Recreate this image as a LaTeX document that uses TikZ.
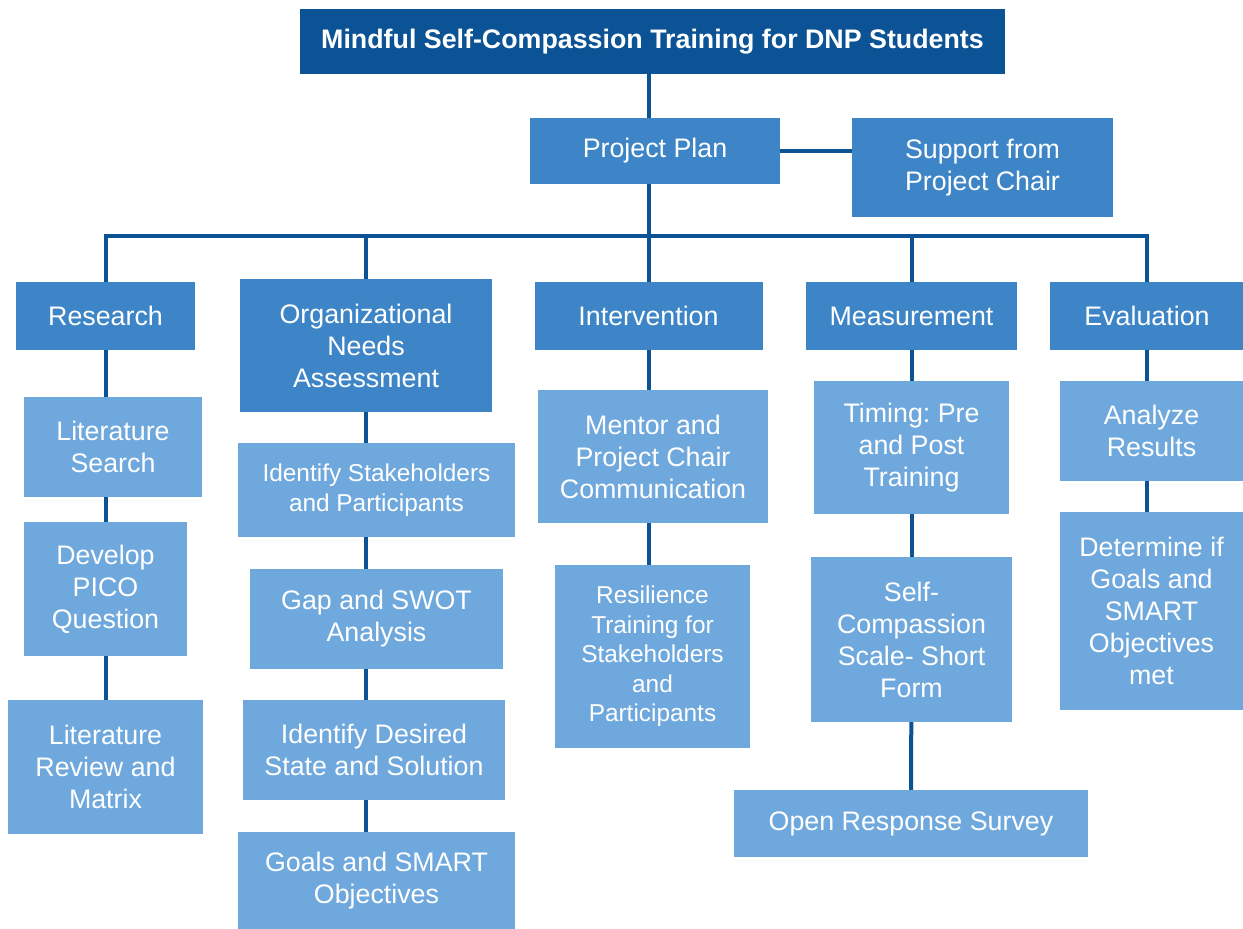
\documentclass[tikz,border=0pt]{standalone}
\usepackage{fontspec}
\setmainfont{Liberation Sans}
\usetikzlibrary{backgrounds}
\definecolor{darkblue}{HTML}{0B5394}
\definecolor{midblue}{HTML}{3D85C6}
\definecolor{lightblue}{HTML}{6FA8DC}
\frenchspacing

\begin{document}
\begin{tikzpicture}[x=1pt,y=-1pt,
    box/.style={rectangle, inner sep=0pt, align=center, text=white,
        font=\fontsize{26.8}{32}\selectfont},
    head/.style={box, fill=midblue},
    task/.style={box, fill=lightblue},
    small/.style={font=\fontsize{24.4}{29.5}\selectfont},
    link/.style={darkblue, line width=4pt}]
    \useasboundingbox (0,0) rectangle (1243,929);

        \node[box, fill=darkblue, minimum width=705pt, minimum height=65pt,
            font=\fontsize{26.8}{32}\selectfont\bfseries] (title) at (652.5, 41.5)
            {Mindful Self-Compassion Training for DNP Students};

        \node[head, minimum width=250pt, minimum height=66pt] (plan) at (655, 151) {Project Plan};
        \node[head, minimum width=261pt, minimum height=99pt] (support) at (982.5, 167.5) {Support from\\Project Chair};
        \coordinate (bus) at (0, 236);

        % phases
        \node[head, minimum width=179pt, minimum height=68pt] (research) at (105.5, 316) {Research};
        \node[head, minimum width=252pt, minimum height=133pt] (needs) at (366, 345.5) {Organizational\\Needs\\Assessment};
        \node[head, minimum width=228pt, minimum height=68pt] (interv) at (648.5, 316) {Intervention};
        \node[head, minimum width=211pt, minimum height=68pt] (measure) at (911.5, 316) {Measurement};
        \node[head, minimum width=194pt, minimum height=68pt] (evaluate) at (1147, 316) {Evaluation};

        % steps
        \node[task, minimum width=178pt, minimum height=100pt] (litsearch) at (113, 447) {Literature\\Search};
        \node[task, minimum width=163pt, minimum height=134pt] (pico) at (105.5, 589) {Develop\\PICO\\Question};
        \node[task, minimum width=195pt, minimum height=134pt] (litreview) at (105.5, 767) {Literature\\Review and\\Matrix};

        \node[task, small, minimum width=277pt, minimum height=94pt] (stake) at (376.5, 490) {Identify Stakeholders\\and Participants};
        \node[task, minimum width=253pt, minimum height=100pt] (gap) at (376.5, 619) {Gap and SWOT\\Analysis};
        \node[task, minimum width=262pt, minimum height=100pt] (desired) at (374, 750) {Identify Desired\\State and Solution};
        \node[task, minimum width=277pt, minimum height=97pt] (goals) at (376.5, 880.5) {Goals and SMART\\Objectives};

        \node[task, minimum width=230pt, minimum height=133pt] (mentor) at (653, 456.5) {Mentor and\\Project Chair\\Communication};
        \node[task, small, minimum width=195pt, minimum height=183pt] (resil) at (652.5, 656.5) {Resilience\\Training for\\Stakeholders\\and\\Participants};

        \node[task, minimum width=195pt, minimum height=133pt] (timing) at (911.5, 447.5) {Timing: Pre\\and Post\\Training};
        \node[task, minimum width=201pt, minimum height=165pt] (selfcomp) at (911.5, 639.5) {Self-\\Compassion\\Scale- Short\\Form};
        \node[task, minimum width=354pt, minimum height=67pt] (openresp) at (911, 823.5) {Open Response Survey};

        \node[task, minimum width=183pt, minimum height=100pt] (analyze) at (1151.5, 431) {Analyze\\Results};
        \node[task, minimum width=183pt, minimum height=198pt] (determine) at (1151.5, 611) {Determine if\\Goals and\\SMART\\Objectives\\met};

        \begin{scope}[on background layer]
        \draw[link] (interv |- title) -- (interv);
        \draw[link] (plan) -- (plan -| support);
        \draw[link] (research) |- (bus -| evaluate) -- (evaluate);
        \draw[link] (needs) -- (needs |- bus);
        \draw[link] (measure) -- (measure |- bus);

        \draw[link] (research) -- (research |- litsearch);
        \draw[link] (research |- litsearch) -- (pico);
        \draw[link] (pico) -- (litreview);
        \draw[link] (needs) -- (needs |- stake);
        \draw[link] (needs |- stake) -- (needs |- gap);
        \draw[link] (needs |- gap) -- (needs |- desired);
        \draw[link] (needs |- desired) -- (needs |- goals);
        \draw[link] (interv) -- (interv |- mentor);
        \draw[link] (interv |- mentor) -- (interv |- resil);
        \draw[link] (measure) -- (timing);
        \draw[link] (timing) -- (selfcomp);
        \draw[link] (selfcomp) -- (openresp);
        \draw[link] (evaluate) -- (evaluate |- analyze);
        \draw[link] (evaluate |- analyze) -- (evaluate |- determine);
        \end{scope}

\end{tikzpicture}
\end{document}
